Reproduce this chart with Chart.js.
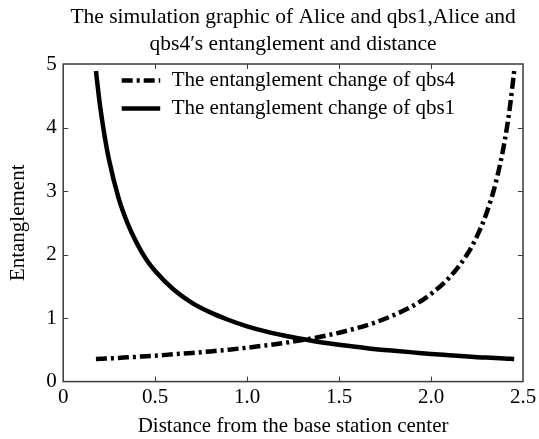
<!DOCTYPE html>
<html>
<head>
<meta charset="utf-8">
<script src="https://cdn.jsdelivr.net/npm/chart.js@4/dist/chart.umd.min.js"></script>
<style>
  html, body { margin: 0; padding: 0; background: #ffffff; }
  #wrap { width: 539px; height: 439px; }
</style>
</head>
<body>
<div id="wrap"><canvas id="c" width="539" height="439"></canvas></div>
<script>
// ---- data ----
const titleLines = ["The simulation graphic of Alice and qbs1,Alice and", "qbs4\u2032s entanglement and distance"];
const xAxisTitle = "Distance from the base station center";
const yAxisTitle = "Entanglement";
const xTickValues = [0, 0.5, 1.0, 1.5, 2.0, 2.5];
const yTickValues = [0, 1, 2, 3, 4, 5];
const seriesNames = ["The entanglement change of qbs4", "The entanglement change of qbs1"];

const distance = [0.178, 0.2, 0.225, 0.25, 0.3, 0.35, 0.4, 0.45, 0.5, 0.6, 0.7, 0.8, 0.9, 1.0, 1.1, 1.2,
                  1.3, 1.4, 1.5, 1.6, 1.7, 1.8, 1.9, 2.0, 2.1, 2.2, 2.25, 2.3, 2.35, 2.4, 2.43, 2.452];
const qbs4 = [0.355, 0.358, 0.362, 0.366, 0.373, 0.382, 0.39, 0.40, 0.408, 0.43, 0.45, 0.475, 0.503, 0.534, 0.569, 0.608,
              0.654, 0.707, 0.77, 0.845, 0.935, 1.05, 1.19, 1.38, 1.64, 2.02, 2.29, 2.64, 3.11, 3.78, 4.35, 4.89];
const qbs1 = [4.89, 4.35, 3.87, 3.48, 2.90, 2.49, 2.18, 1.93, 1.74, 1.45, 1.24, 1.09, 0.97, 0.87, 0.79, 0.725,
              0.67, 0.62, 0.58, 0.545, 0.51, 0.485, 0.46, 0.435, 0.415, 0.395, 0.385, 0.378, 0.37, 0.363, 0.358, 0.355];

const FONT = "'Liberation Serif', 'Times New Roman', serif";

const toPoints = (xs, ys) => xs.map((x, i) => ({ x: x, y: ys[i] }));

// frame, inward ticks and in-plot legend
const framePlugin = {
  id: 'frame',
  afterDraw(chart) {
    const ctx = chart.ctx;
    const a = chart.chartArea;
    const xs = chart.scales.x, ys = chart.scales.y;
    ctx.save();
    ctx.strokeStyle = '#3a3a3a';
    ctx.lineWidth = 1.5;
    ctx.strokeRect(a.left, a.top, a.right - a.left, a.bottom - a.top);
    ctx.lineWidth = 1;
    const tl = 5;
    xTickValues.slice(1, -1).forEach(v => {
      const px = Math.round(xs.getPixelForValue(v)) + 0.5;
      ctx.beginPath();
      ctx.moveTo(px, a.bottom); ctx.lineTo(px, a.bottom - tl);
      ctx.moveTo(px, a.top); ctx.lineTo(px, a.top + tl);
      ctx.stroke();
    });
    yTickValues.slice(1, -1).forEach(v => {
      const py = Math.round(ys.getPixelForValue(v)) + 0.5;
      ctx.beginPath();
      ctx.moveTo(a.left, py); ctx.lineTo(a.left + tl, py);
      ctx.moveTo(a.right, py); ctx.lineTo(a.right - tl, py);
      ctx.stroke();
    });
    // legend inside the plot
    ctx.font = "21px " + FONT;
    ctx.textBaseline = 'middle';
    ctx.fillStyle = '#000';
    chart.data.datasets.forEach((ds, i) => {
      const y = a.top + 16.5 + i * 28;
      ctx.beginPath();
      ctx.strokeStyle = '#000';
      ctx.lineWidth = ds.borderWidth;
      ctx.setLineDash(ds.borderDash || []);
      ctx.lineCap = 'butt';
      ctx.moveTo(a.left + 58.5, y);
      ctx.lineTo(a.left + 97, y);
      ctx.stroke();
      ctx.setLineDash([]);
      ctx.fillText(ds.label, a.left + 108.5, y);
    });
    ctx.restore();
  }
};

new Chart(document.getElementById('c'), {
  type: 'scatter',
  data: {
    datasets: [
      {
        label: seriesNames[0],
        data: toPoints(distance, qbs4),
        showLine: true,
        borderColor: '#000',
        backgroundColor: '#000',
        borderWidth: 4.5,
        borderDash: [11, 4, 3, 4],
        pointRadius: 0,
        cubicInterpolationMode: 'monotone'
      },
      {
        label: seriesNames[1],
        data: toPoints(distance, qbs1),
        showLine: true,
        borderColor: '#000',
        backgroundColor: '#000',
        borderWidth: 4.5,
        pointRadius: 0,
        cubicInterpolationMode: 'monotone'
      }
    ]
  },
  options: {
    responsive: false,
    animation: false,
    devicePixelRatio: 1,
    layout: { padding: { left: 0, right: 0, top: 0, bottom: 0 } },
    plugins: {
      legend: { display: false },
      tooltip: { enabled: false },
      title: {
        display: true,
        text: titleLines,
        fullSize: false,
        color: '#000',
        font: { family: FONT, size: 21.5, weight: 'normal', lineHeight: 1.256 },
        padding: { top: 4, bottom: 6 }
      }
    },
    scales: {
      x: {
        type: 'linear',
        min: 0, max: 2.5,
        afterBuildTicks: (s) => { s.ticks = xTickValues.map(v => ({ value: v })); },
        afterFit: (s) => { s.paddingRight = 16; },
        ticks: {
          color: '#000',
          font: { family: FONT, size: 21 },
          padding: 3.5,
          maxRotation: 0,
          callback: (v) => v === 0 ? '0' : Number(v).toFixed(1)
        },
        grid: { display: false, drawTicks: false },
        border: { display: false },
        title: {
          display: true,
          text: xAxisTitle,
          color: '#000',
          font: { family: FONT, size: 21, lineHeight: 1.2 },
          padding: { top: 0, bottom: 0 }
        }
      },
      y: {
        type: 'linear',
        min: 0, max: 5,
        afterBuildTicks: (s) => { s.ticks = yTickValues.map(v => ({ value: v })); },
        ticks: {
          color: '#000',
          font: { family: FONT, size: 21 },
          padding: 6.5,
          callback: (v) => String(v)
        },
        grid: { display: false, drawTicks: false },
        border: { display: false },
        title: {
          display: true,
          text: yAxisTitle,
          color: '#000',
          font: { family: FONT, size: 21, lineHeight: 1.2 },
          padding: { top: 6, bottom: 8.5 }
        }
      }
    }
  },
  plugins: [framePlugin]
});
</script>
</body>
</html>
